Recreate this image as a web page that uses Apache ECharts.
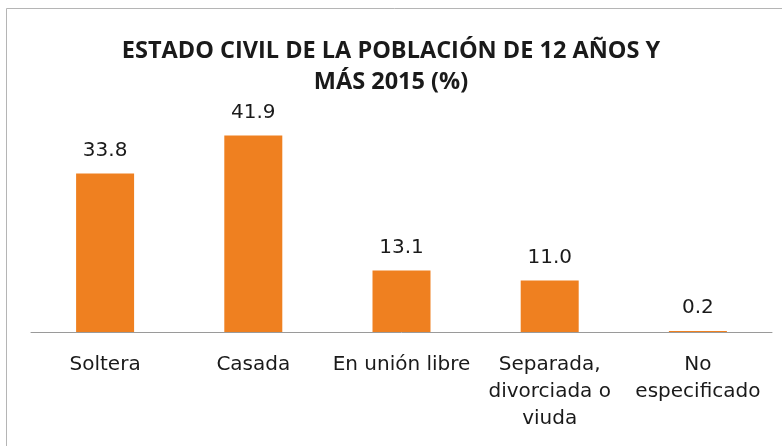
<!DOCTYPE html>
<html>
<head>
<meta charset="utf-8">
<script src="https://cdn.jsdelivr.net/npm/echarts@6/dist/echarts.min.js"></script>
<style>
  html, body { margin: 0; padding: 0; background: #fff; }
  #chart { width: 782px; height: 446px; }
</style>
</head>
<body>
<div id="chart"></div>
<script>
  // categorias y porcentajes
  let categorias = ['Soltera', 'Casada', 'En unión libre', 'Separada,\ndivorciada o\nviuda', 'No\nespecificado'];
  let valores = [33.8, 41.9, 13.1, 11.0, 0.2];

  let chart = echarts.init(document.getElementById('chart'));
  let option = {
    backgroundColor: '#fff',
    title: {
      text: 'ESTADO CIVIL DE LA POBLACIÓN DE 12 AÑOS Y\nMÁS 2015 (%)',
      left: 'center',
      top: 31,
      textStyle: {
        fontFamily: 'Open Sans',
        fontWeight: 'bold',
        fontSize: 23.5,
        lineHeight: 31,
        color: '#1a1a1a'
      }
    },
    graphic: [{
      type: 'rect',
      shape: { x: 6.5, y: 8.5, width: 800, height: 460 },
      style: { fill: 'none', stroke: '#b5b5b5', lineWidth: 1 },
      silent: true
    }],
    grid: { left: 31, right: 10, top: 121, bottom: 114 },
    xAxis: {
      type: 'category',
      data: categorias,
      axisTick: { show: false },
      axisLine: { lineStyle: { color: '#9a9a9a', width: 1 } },
      axisLabel: {
        interval: 0,
        margin: 19,
        fontFamily: 'DejaVu Sans',
        fontSize: 20,
        lineHeight: 27,
        color: '#1a1a1a'
      }
    },
    yAxis: {
      type: 'value',
      min: 0,
      max: 45,
      show: false,
      splitLine: { show: false }
    },
    series: [{
      type: 'bar',
      data: valores,
      barWidth: 58,
      itemStyle: { color: '#EF8020' },
      label: {
        show: true,
        position: 'top',
        distance: 13,
        formatter: function (p) { return p.value.toFixed(1); },
        fontFamily: 'DejaVu Sans',
        fontSize: 20,
        color: '#1a1a1a'
      }
    }]
  };
  chart.setOption(option);
</script>
</body>
</html>
